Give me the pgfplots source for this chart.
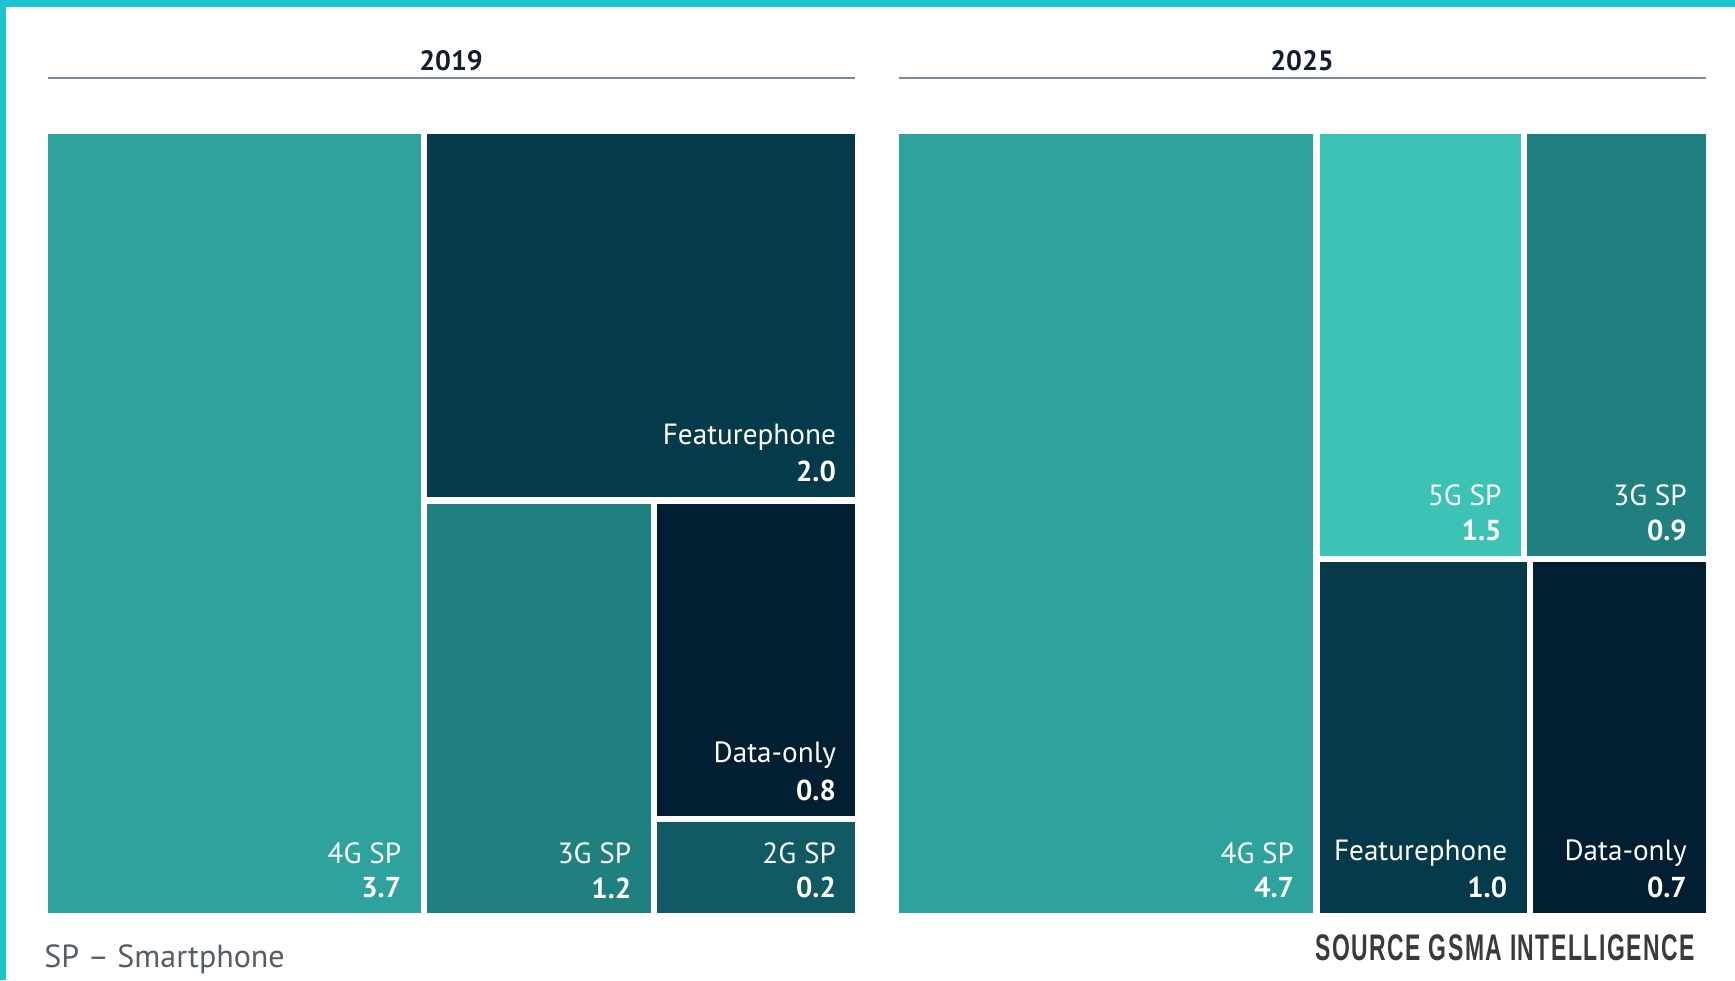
\documentclass[border=0pt]{standalone}
\usepackage{pgfplots}
\pgfplotsset{compat=1.18}
\usepackage{fontspec}
\setmainfont{PT Sans}
\newfontfamily\srcfont[FakeStretch=0.62,LetterSpace=4]{Liberation Sans Bold}
\definecolor{frame}{RGB}{27,198,206}
\definecolor{c4g}{RGB}{46,162,157}
\definecolor{cfp}{RGB}{4,58,74}
\definecolor{c3g}{RGB}{32,128,128}
\definecolor{cdo}{RGB}{1,30,51}
\definecolor{c2g}{RGB}{17,90,99}
\definecolor{c5g}{RGB}{61,195,182}
\definecolor{titlec}{RGB}{15,30,48}
\definecolor{linec}{RGB}{122,138,150}
\definecolor{notec}{RGB}{85,94,102}
\definecolor{srcc}{RGB}{58,58,58}
\newcommand{\rect}[5]{\addplot[fill=#5,draw=none,mark=none] coordinates {(#1,#2) (#3,#2) (#3,#4) (#1,#4)} --cycle;}
\newcommand{\lab}[4]{%
  \node[anchor=east,text=white,inner sep=0pt,font=\fontsize{14.6}{16}\selectfont] at (axis cs:#1-19,#2-60) {#3};
  \node[anchor=east,text=white,inner sep=0pt,font=\fontsize{14.4}{16}\selectfont\bfseries] at (axis cs:#1-19,#2-25) {#4};}
\begin{document}
\begin{tikzpicture}
\begin{axis}[hide axis, scale only axis, width=867.5pt, height=490pt,
  xmin=0, xmax=1735, ymin=0, ymax=980, y dir=reverse, clip=false]
% background and frame
\rect{0}{0}{1735}{980}{white}
\rect{0}{0}{1735}{7}{frame}
\rect{0}{0}{6}{980}{frame}
% titles
\addplot[color=linec,line width=1.1pt,mark=none] coordinates {(47.6,78) (855.3,78)};
\addplot[color=linec,line width=1.1pt,mark=none] coordinates {(898.5,78) (1706.2,78)};
\node[text=titlec,font=\fontsize{14}{16}\selectfont\bfseries] at (axis cs:451,61) {2019};
\node[text=titlec,font=\fontsize{14}{16}\selectfont\bfseries] at (axis cs:1302,61) {2025};
% 2019 treemap
\rect{47.6}{133.9}{420.5}{912.9}{c4g}
\rect{427.1}{133.9}{855.3}{496.8}{cfp}
\rect{427.1}{503.5}{650.6}{912.9}{c3g}
\rect{657.3}{503.5}{855.3}{815.5}{cdo}
\rect{657.3}{822.1}{855.3}{912.9}{c2g}
\lab{420.5}{912.9}{4G SP}{3.7}
\lab{855.3}{496.8}{Featurephone}{2.0}
\lab{650.6}{912.9}{3G SP}{1.2}
\lab{855.3}{815.5}{Data-only}{0.8}
\lab{855.3}{912.9}{2G SP}{0.2}
% 2025 treemap
\rect{898.5}{133.9}{1313.4}{912.9}{c4g}
\rect{1320.1}{133.9}{1520.8}{555.5}{c5g}
\rect{1527.4}{133.9}{1706.2}{555.5}{c3g}
\rect{1320.1}{562.3}{1526.5}{912.9}{cfp}
\rect{1533.0}{562.3}{1706.2}{912.9}{cdo}
\lab{1313.4}{912.9}{4G SP}{4.7}
\lab{1520.8}{555.5}{5G SP}{1.5}
\lab{1706.2}{555.5}{3G SP}{0.9}
\lab{1526.5}{912.9}{Featurephone}{1.0}
\lab{1706.2}{912.9}{Data-only}{0.7}
% notes
\node[anchor=west,text=notec,inner sep=0pt,font=\fontsize{16}{18}\selectfont] at (axis cs:44,959) {SP – Smartphone};
\node[anchor=east,text=srcc,inner sep=0pt,font=\fontsize{18.5}{20}\srcfont] at (axis cs:1695,948) {SOURCE GSMA INTELLIGENCE};
\end{axis}
\end{tikzpicture}
\end{document}
